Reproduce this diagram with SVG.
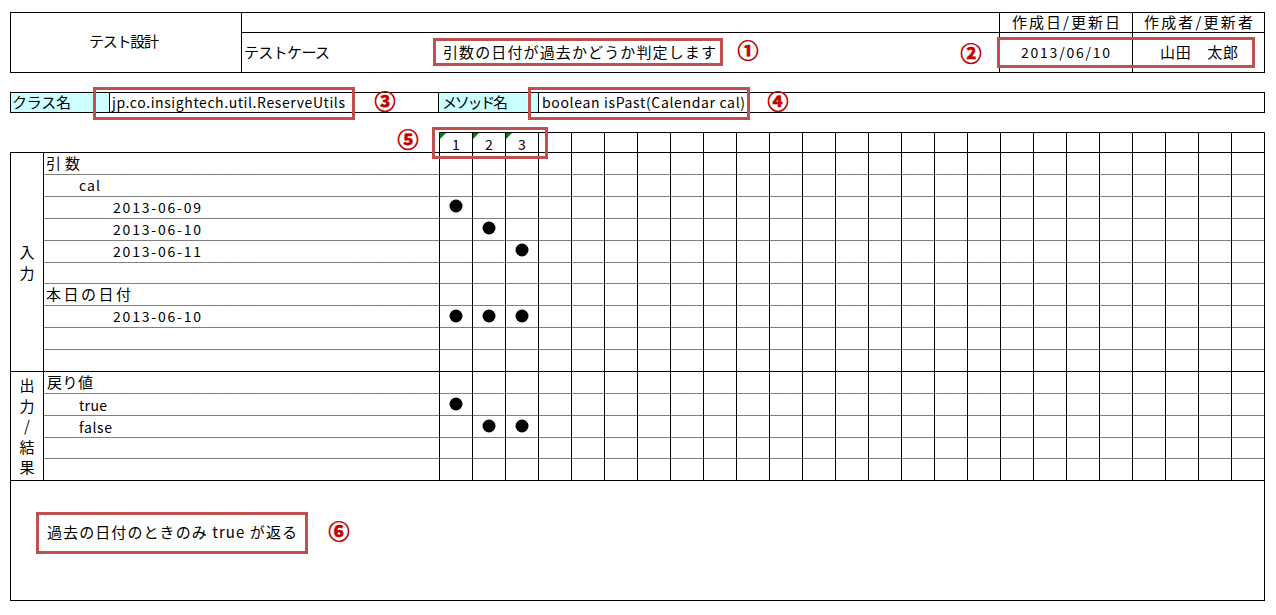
<svg xmlns="http://www.w3.org/2000/svg" width="1276" height="615" viewBox="0 0 1276 615">
<style>
.t{font-family:"Noto Sans CJK JP","Noto Sans",sans-serif;font-size:15px;fill:#000}
.l{font-family:"Noto Sans CJK JP","Noto Sans",sans-serif;font-size:14px;fill:#000}
.c{text-anchor:middle}
.ln{stroke:#000;stroke-width:1;fill:none}
.dt{stroke:#000;stroke-width:1;stroke-dasharray:1 1;fill:none}
.cy{fill:#ccffff}
.red{fill:none;stroke:#c0504d;stroke-width:3}
.num{font-family:"Noto Sans CJK JP",sans-serif;font-size:21px;font-weight:bold;fill:#c00000;stroke:#c00000;stroke-width:0.7;text-anchor:middle}
.tri{fill:#008000}
</style>
<rect width="1276" height="615" fill="#fff"/>

<g id="header">
  <rect class="ln" x="10.5" y="12.5" width="1254" height="60"/>
  <path class="ln" d="M241.5 12.5V72.5M241.5 32.5H1264.5M999.5 12.5V72.5M1132.5 12.5V72.5"/>
  <text class="t" x="89" y="47" textLength="70">テスト設計</text>
  <text class="t" x="244" y="58" textLength="86">テストケース</text>
  <text class="t" x="443" y="58" textLength="273">引数の日付が過去かどうか判定します</text>
  <text class="t" x="1012" y="28" textLength="108">作成日/更新日</text>
  <text class="t" x="1144" y="28" textLength="109">作成者/更新者</text>
  <text class="l" x="1021" y="58" textLength="89">2013/06/10</text>
  <text class="t" x="1160" y="58" textLength="78">山田　太郎</text>
</g>

<g id="class-row">
  <rect class="cy" x="11" y="93" width="98" height="19"/>
  <rect class="cy" x="439" y="93" width="99" height="19"/>
  <rect class="ln" x="10.5" y="92.5" width="1254" height="20"/>
  <path class="ln" d="M109.5 92.5V112.5M438.5 92.5V112.5M538.5 92.5V112.5"/>
  <text class="t" x="12" y="108" textLength="59">クラス名</text>
  <text class="l" x="112" y="108" textLength="233">jp.co.insightech.util.ReserveUtils</text>
  <text class="t" x="442" y="108" textLength="66">メソッド名</text>
  <text class="l" x="542" y="108" textLength="203">boolean isPast(Calendar cal)</text>
</g>

<g id="case-header">
  <path class="ln" d="M439.5 132.5H1264.5"/>
  <polygon class="tri" points="440,133 446,133 440,139"/>
  <polygon class="tri" points="473,133 479,133 473,139"/>
  <polygon class="tri" points="506,133 512,133 506,139"/>
  <text class="l c" x="456" y="150">1</text>
  <text class="l c" x="489" y="150">2</text>
  <text class="l c" x="522" y="150">3</text>
</g>

<g id="matrix">
  <rect class="ln" x="10.5" y="152.5" width="1254" height="448"/>
  <path class="ln" d="M43.5 152.5V480.5M10.5 371.5H1264.5M10.5 480.5H1264.5"/>
  <path class="ln" d="M439.5 132.5V480.5M472.5 132.5V480.5M505.5 132.5V480.5M538.5 132.5V480.5M571.5 132.5V480.5M604.5 132.5V480.5M637.5 132.5V480.5M670.5 132.5V480.5M703.5 132.5V480.5M736.5 132.5V480.5M769.5 132.5V480.5M802.5 132.5V480.5M835.5 132.5V480.5M868.5 132.5V480.5M901.5 132.5V480.5M934.5 132.5V480.5M967.5 132.5V480.5M1000.5 132.5V480.5M1033.5 132.5V480.5M1066.5 132.5V480.5M1099.5 132.5V480.5M1132.5 132.5V480.5M1165.5 132.5V480.5M1198.5 132.5V480.5M1231.5 132.5V480.5M1264.5 132.5V480.5"/>
  <path class="dt" d="M43.5 174.5H1264.5M43.5 196.5H1264.5M43.5 218.5H1264.5M43.5 240.5H1264.5M43.5 262.5H1264.5M43.5 283.5H1264.5M43.5 305.5H1264.5M43.5 327.5H1264.5M43.5 349.5H1264.5M43.5 393.5H1264.5M43.5 415.5H1264.5M43.5 437.5H1264.5M43.5 458.5H1264.5"/>

  <text class="t c" x="27" y="258">入</text>
  <text class="t c" x="27" y="279">力</text>
  <text class="t c" x="27" y="391">出</text>
  <text class="t c" x="27" y="412">力</text>
  <text class="t c" x="27" y="432">/</text>
  <text class="t c" x="27" y="453">結</text>
  <text class="t c" x="27" y="473">果</text>

  <text class="t" x="46" y="169" textLength="34">引数</text>
  <text class="l" x="79" y="191" textLength="21">cal</text>
  <text class="l" x="113" y="213" textLength="88">2013-06-09</text>
  <text class="l" x="113" y="235" textLength="88">2013-06-10</text>
  <text class="l" x="113" y="257" textLength="88">2013-06-11</text>
  <text class="t" x="46" y="300" textLength="85">本日の日付</text>
  <text class="l" x="113" y="322" textLength="88">2013-06-10</text>
  <text class="t" x="47" y="388" textLength="46">戻り値</text>
  <text class="l" x="79" y="411" textLength="28">true</text>
  <text class="l" x="79" y="433" textLength="33">false</text>

  <circle cx="456" cy="206" r="6.5"/>
  <circle cx="489" cy="228" r="6.5"/>
  <circle cx="522" cy="250" r="6.5"/>
  <circle cx="456" cy="316" r="6.5"/>
  <circle cx="489" cy="316" r="6.5"/>
  <circle cx="522" cy="316" r="6.5"/>
  <circle cx="456" cy="404" r="6.5"/>
  <circle cx="489" cy="426" r="6.5"/>
  <circle cx="522" cy="426" r="6.5"/>

  <text class="t" x="47" y="538" textLength="250">過去の日付のときのみ true が返る</text>
</g>

<g id="annotations">
  <rect class="red" x="434.5" y="39.5" width="287" height="25"/>
  <rect class="red" x="998.5" y="38.5" width="255" height="28"/>
  <rect class="red" x="94.5" y="88.5" width="259" height="30"/>
  <rect class="red" x="529.5" y="88.5" width="219" height="30"/>
  <rect class="red" x="433.5" y="128.5" width="113" height="29"/>
  <rect class="red" x="37.5" y="513.5" width="269" height="39"/>
  <text class="num" x="748" y="58">①</text>
  <text class="num" x="971" y="61">②</text>
  <text class="num" x="385" y="109">③</text>
  <text class="num" x="778" y="109">④</text>
  <text class="num" x="408" y="147">⑤</text>
  <text class="num" x="339" y="539">⑥</text>
</g>
</svg>
